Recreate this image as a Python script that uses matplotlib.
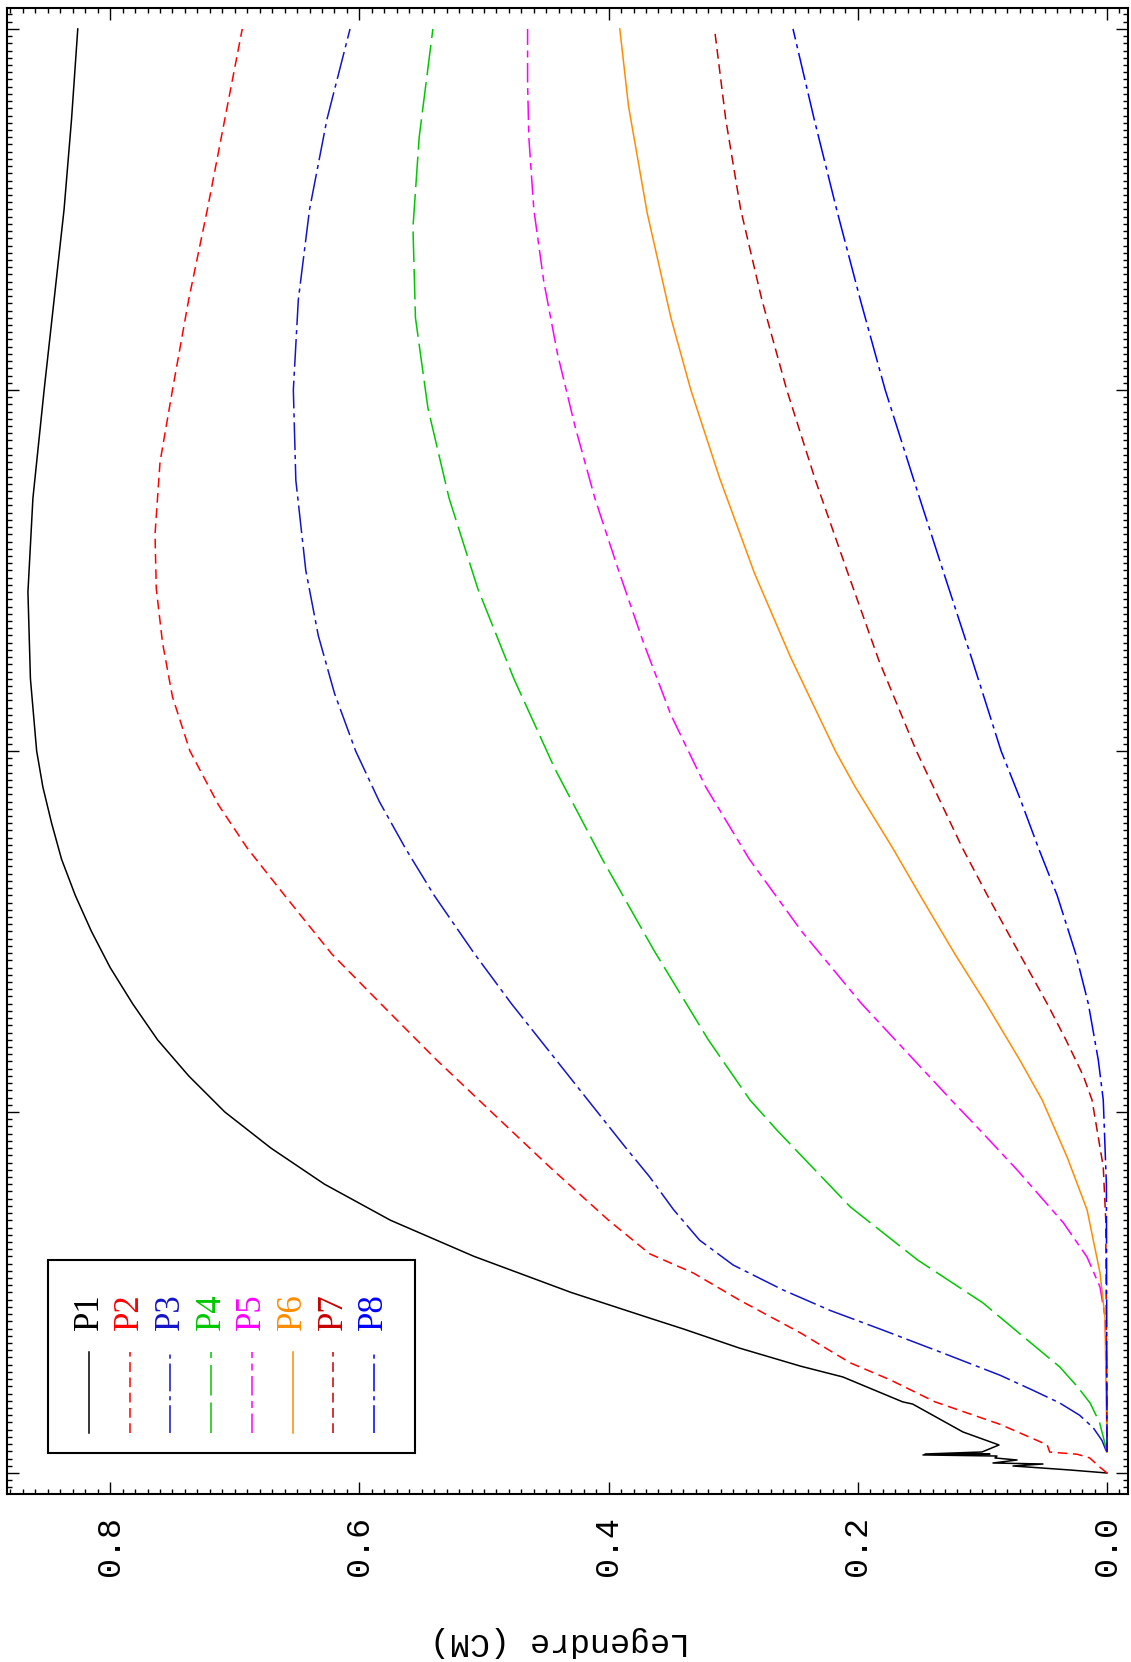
import matplotlib
matplotlib.use('Agg')
import matplotlib.pyplot as plt
import numpy as np
from matplotlib.patches import Rectangle
from matplotlib.lines import Line2D
from matplotlib.ticker import MultipleLocator

plt.rcParams['lines.scale_dashes'] = False

# profile abscissa (vertical in the picture) and Legendre value (horizontal)
t1 = [0.0, 0.0083, 0.0194, 0.0249, 0.0277, 0.036, 0.0416, 0.047, 0.050, 0.0526, 0.0526, 0.0582,
      0.0776, 0.1136, 0.191, 0.197, 0.266, 0.296, 0.346, 0.399, 0.429, 0.5, 0.6, 0.7, 0.8, 0.9,
      1.0, 1.1, 1.2, 1.3, 1.4, 1.5, 1.6, 1.7, 1.8, 1.9, 2.0, 2.2, 2.44, 2.7, 3.0, 3.25, 3.5,
      3.75, 4.0]
p1 = [0.0, 0.0297, 0.0754, 0.0514, 0.0915, 0.0722, 0.0899, 0.0883, 0.1477, 0.0939, 0.146, 0.1003,
      0.0867, 0.1156, 0.156, 0.164, 0.212, 0.246, 0.295, 0.340, 0.367, 0.430, 0.508, 0.575, 0.628,
      0.671, 0.708, 0.737, 0.762, 0.782, 0.800, 0.815, 0.828, 0.839, 0.847, 0.854, 0.859, 0.864,
      0.866, 0.862, 0.853, 0.845, 0.837, 0.831, 0.826]

t2 = [0.0, 0.017, 0.042, 0.052, 0.058, 0.078, 0.135, 0.197, 0.258, 0.305, 0.388, 0.479, 0.554,
      0.607, 0.7, 0.85, 1.0, 1.144, 1.29, 1.437, 1.6, 1.731, 1.85, 2.0, 2.15, 2.3, 2.45, 2.6,
      2.8, 3.0, 3.25, 3.5, 3.75, 4.0]
p2 = [0.0, 0.006, 0.014, 0.024, 0.046, 0.048, 0.086, 0.138, 0.174, 0.206, 0.246, 0.295, 0.332,
      0.367, 0.400, 0.448, 0.494, 0.538, 0.580, 0.622, 0.660, 0.690, 0.713, 0.736, 0.750, 0.758,
      0.763, 0.764, 0.760, 0.750, 0.737, 0.722, 0.708, 0.694]

t3 = [0.058, 0.064, 0.09, 0.125, 0.16, 0.194, 0.23, 0.271, 0.33, 0.396, 0.45, 0.507, 0.576, 0.645,
      0.73, 0.82, 0.9, 1.0, 1.1, 1.2, 1.3, 1.44, 1.6, 1.73, 1.86, 2.0, 2.16, 2.32, 2.5, 2.75, 3.0,
      3.25, 3.5, 3.75, 4.0]
p3 = [0.0, 0.001, 0.004, 0.011, 0.022, 0.038, 0.060, 0.086, 0.130, 0.180, 0.222, 0.260, 0.300,
      0.327, 0.348, 0.367, 0.386, 0.409, 0.432, 0.455, 0.478, 0.508, 0.540, 0.563, 0.584, 0.603,
      0.620, 0.633, 0.643, 0.651, 0.653, 0.649, 0.640, 0.626, 0.6075]

t4 = [0.058, 0.1, 0.14, 0.194, 0.24, 0.294, 0.38, 0.471, 0.59, 0.737, 0.95, 1.033, 1.2, 1.45, 1.7,
      1.95, 2.2, 2.45, 2.7, 2.95, 3.2, 3.45, 3.7, 4.0]
p4 = [0.0, 0.003, 0.006, 0.0136, 0.024, 0.038, 0.068, 0.0995, 0.152, 0.206, 0.265, 0.2865, 0.320,
      0.364, 0.405, 0.443, 0.476, 0.505, 0.528, 0.545, 0.555, 0.557, 0.552, 0.541]

t5 = [0.058, 0.3, 0.432, 0.515, 0.598, 0.693, 0.839, 0.95, 1.028, 1.1, 1.3, 1.5, 1.7, 1.9, 2.1,
      2.3, 2.5, 2.7, 2.9, 3.1, 3.3, 3.5, 3.7, 3.85, 4.0]
p5 = [0.0, 0.0003, 0.0016, 0.0056, 0.016, 0.035, 0.072, 0.102, 0.1236, 0.143, 0.197, 0.245, 0.287,
      0.322, 0.350, 0.372, 0.392, 0.411, 0.427, 0.441, 0.452, 0.460, 0.464, 0.465, 0.465]

t6 = [0.058, 0.43, 0.554, 0.729, 0.875, 1.033, 1.144, 1.3, 1.437, 1.6, 1.731, 1.9, 2.0, 2.26, 2.493,
      2.757, 3.0, 3.2, 3.49, 3.786, 4.0]
p6 = [0.0, 0.0016, 0.0056, 0.016, 0.032, 0.052, 0.070, 0.097, 0.122, 0.150, 0.172, 0.202, 0.218,
      0.254, 0.283, 0.311, 0.334, 0.350, 0.369, 0.384, 0.391]

t7 = [0.058, 0.7, 0.848, 1.033, 1.1, 1.2, 1.3, 1.437, 1.6, 1.731, 2.0, 2.25, 2.493, 2.75, 3.0, 3.25,
      3.5, 3.75, 4.0]
p7 = [0.0, 0.001, 0.003, 0.012, 0.019, 0.033, 0.048, 0.070, 0.096, 0.116, 0.153, 0.183, 0.208,
      0.234, 0.257, 0.277, 0.294, 0.306, 0.315]

t8 = [0.058, 0.8, 1.033, 1.144, 1.3, 1.437, 1.6, 1.731, 1.87, 2.0, 2.25, 2.493, 2.75, 3.0, 3.25,
      3.5, 3.75, 4.0]
p8 = [0.0, 0.0005, 0.003, 0.007, 0.015, 0.025, 0.040, 0.055, 0.070, 0.085, 0.108, 0.131, 0.155,
      0.178, 0.198, 0.217, 0.235, 0.252]

noms = ['P1', 'P2', 'P3', 'P4', 'P5', 'P6', 'P7', 'P8']
couleurs = ['black', '#FF0000', '#1414C8', '#00C800', '#FF00FF', '#FF8C00', '#C80000', '#0000FF']
styles = ['-', (0, (7, 4)), (0, (20, 3.5, 3, 3.5)), (0, (22, 5)), (0, (14, 4, 5, 4)),
          '-', (0, (7, 4)), (0, (20, 3.5, 3, 3.5))]

W, H = 1131, 1662
fig = plt.figure(figsize=(W / 100, H / 100), dpi=100)
ax = fig.add_axes([7 / W, (H - 1494) / H, (1128 - 7) / W, (1494 - 8) / H])

series = [(t1, p1), (t2, p2), (t3, p3), (t4, p4), (t5, p5), (t6, p6), (t7, p7), (t8, p8)]
for (t, p), c, ls in zip(series, couleurs, styles):
    ax.plot(p, t, color=c, linestyle=ls, lw=1.1)

ax.set_xlim(0.8828, -0.01685)
ax.set_ylim(-0.0582, 4.058)
ax.xaxis.set_major_locator(MultipleLocator(0.2))
ax.xaxis.set_minor_locator(MultipleLocator(0.01))
ax.yaxis.set_major_locator(MultipleLocator(1.0))
ax.yaxis.set_minor_locator(MultipleLocator(0.02))
ax.tick_params(which='both', direction='in', top=True, right=True, width=1.0)
ax.tick_params(which='major', length=8.5)
ax.tick_params(which='minor', length=3.5)
ax.tick_params(axis='y', labelleft=False)
ax.set_xticks([0.0, 0.2, 0.4, 0.6, 0.8])
ax.set_xticklabels(['0.0', '0.2', '0.4', '0.6', '0.8'], rotation=90,
                   family='Liberation Mono', fontsize=24)
ax.tick_params(axis='x', pad=16)
for s in ax.spines.values():
    s.set_linewidth(1.5)

fig.text(560 / W, (H - 1642) / H, 'Legendre (CM)', rotation=180, ha='center', va='center',
         family='Liberation Mono', fontsize=24)

# legend box, drawn by hand because it is rotated
fig.add_artist(Rectangle((48 / W, (H - 1453) / H), (415 - 48) / W, (1453 - 1260) / H,
                         transform=fig.transFigure, fill=False, lw=1.5, ec='black'))
for i in range(8):
    xl = (89 + 40.7 * i) / W
    fig.add_artist(Line2D([xl, xl], [(H - 1433) / H, (H - 1352) / H], transform=fig.transFigure,
                          color=couleurs[i], linestyle=styles[i], lw=1.1))
    fig.text(xl, (H - 1330) / H, noms[i], rotation=90, ha='center', va='bottom',
             color=couleurs[i], family='Liberation Serif', fontsize=25)

fig.savefig('out.png', dpi=100)
